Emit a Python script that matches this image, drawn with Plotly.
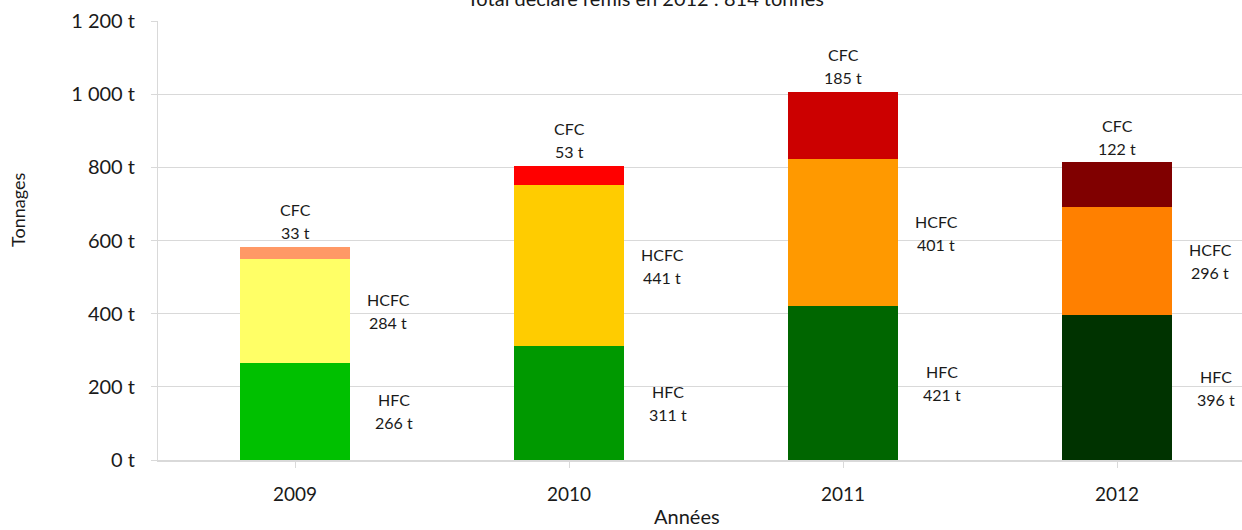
import plotly.graph_objects as go

# Tonnages déclarés remis, par famille de fluide
years = ["2009", "2010", "2011", "2012"]
hfc = [266, 311, 421, 396]
hcfc = [284, 441, 401, 296]
cfc = [33, 53, 185, 122]

# Une teinte par année et par famille
hfc_colors = ["#00C000", "#009900", "#006600", "#003300"]
hcfc_colors = ["#FFFF66", "#FFCC00", "#FF9900", "#FF8000"]
cfc_colors = ["#FF9966", "#FF0000", "#CC0000", "#800000"]

title_text = "Total déclaré remis en 2012 : 814 tonnes"
y_ticks = [0, 200, 400, 600, 800, 1000, 1200]
y_tick_text = ["0 t", "200 t", "400 t", "600 t", "800 t", "1 000 t", "1 200 t"]

FONT = "Lato, 'Open Sans', sans-serif"
TXT = "#1a1a1a"
LABEL_SIZE = 16

xs = list(range(len(years)))
fig = go.Figure()

for name, vals, cols in [("HFC", hfc, hfc_colors),
                         ("HCFC", hcfc, hcfc_colors),
                         ("CFC", cfc, cfc_colors)]:
    fig.add_trace(go.Bar(
        x=xs, y=vals, name=name, width=0.4,
        marker=dict(color=cols, line=dict(width=0)),
        hoverinfo="skip", showlegend=False,
    ))


def two_line_label(x, y, name, value, dy_name, dy_value):
    """Nom de la famille et tonnage sur deux lignes, décalés en pixels."""
    font = dict(family=FONT, size=LABEL_SIZE, color=TXT)
    return [
        dict(x=x, y=y, xref="x", yref="y", text=name, showarrow=False,
             xanchor="center", yanchor="middle", yshift=dy_name, font=font),
        dict(x=x, y=y, xref="x", yref="y", text=f"{value} t", showarrow=False,
             xanchor="center", yanchor="middle", yshift=dy_value, font=font),
    ]


annotations = []
totals = [a + b + c for a, b, c in zip(hfc, hcfc, cfc)]
for i in xs:
    # HFC et HCFC : à droite de la barre, au milieu du segment
    annotations += two_line_label(i + 0.36, hfc[i] / 2, "HFC", hfc[i], 11.5, -11.5)
    annotations += two_line_label(i + 0.34, hfc[i] + hcfc[i] / 2, "HCFC", hcfc[i], 11.5, -11.5)
    # CFC : au-dessus de la barre
    annotations += two_line_label(i, totals[i], "CFC", cfc[i], 37, 14)

W, H = 1242, 530
L, R, T, B = 158, 0, 21, 70
plot_w = W - L - R
plot_h = H - T - B
cat_px = 274
x_end = -0.5 + plot_w / cat_px

annotations += [
    dict(text="Tonnages", xref="paper", yref="paper",
         x=-(L - 18) / plot_w, y=(460 - 210) / plot_h, textangle=-90,
         showarrow=False, xanchor="center", yanchor="middle",
         font=dict(family=FONT, size=18, color=TXT)),
    dict(text="Années", xref="paper", yref="paper",
         x=(687 - L) / plot_w, y=-(516 - 460) / plot_h,
         showarrow=False, xanchor="center", yanchor="middle",
         font=dict(family=FONT, size=20, color=TXT)),
    dict(text=title_text, xref="paper", yref="paper",
         x=(645 - L) / plot_w, y=(460 + 2) / plot_h,
         showarrow=False, xanchor="center", yanchor="middle",
         font=dict(family=FONT, size=20, color=TXT)),
]

fig.update_layout(
    width=W, height=H,
    margin=dict(l=L, r=R, t=T, b=B),
    paper_bgcolor="white", plot_bgcolor="white",
    barmode="stack", bargap=0.6,
    font=dict(family=FONT, color=TXT),
    xaxis=dict(
        range=[-0.5, x_end], tickvals=xs, ticktext=years,
        showgrid=False, zeroline=False,
        showline=True, linecolor="#D9D9D9", linewidth=2,
        ticks="outside", ticklen=6, tickcolor="#D9D9D9",
        tickson="boundaries",
        tickfont=dict(family=FONT, size=19, color=TXT),
        ticklabelstandoff=10,
    ),
    yaxis=dict(
        range=[0, 1200], tickvals=y_ticks, ticktext=y_tick_text,
        showgrid=True, gridcolor="#D9D9D9", gridwidth=1,
        zeroline=False,
        showline=True, linecolor="#D9D9D9", linewidth=1,
        ticks="outside", ticklen=6, tickcolor="#D9D9D9",
        tickfont=dict(family=FONT, size=20, color=TXT),
        ticklabelstandoff=12,
    ),
    annotations=annotations,
)

fig.write_html("out.html")
